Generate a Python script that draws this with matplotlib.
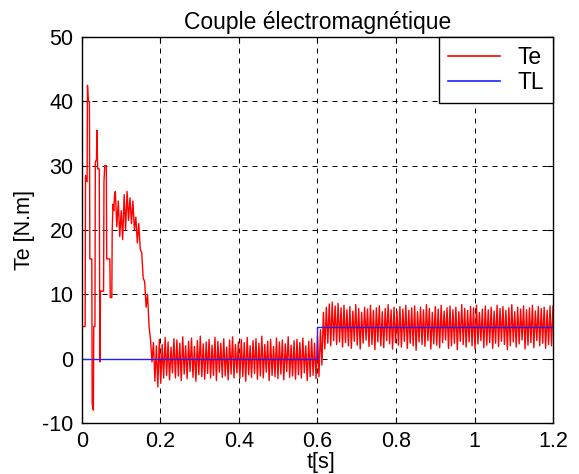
import numpy as np
import matplotlib
matplotlib.use("Agg")
from matplotlib import pyplot as plt

plt.rcParams["font.family"] = ["Liberation Sans", "DejaVu Sans"]
plt.rcParams["axes.unicode_minus"] = False

# start-up transient of Te, read point by point
t_start = [0.000, 0.008, 0.009, 0.013, 0.014, 0.016, 0.019, 0.020, 0.025, 0.026,
           0.029, 0.030, 0.033, 0.034, 0.037, 0.038, 0.040, 0.044, 0.045, 0.046,
           0.047, 0.055, 0.056, 0.058, 0.062, 0.063, 0.071, 0.072, 0.076, 0.077,
           0.079, 0.081, 0.083]
te_start = [5.0, 5.0, 28.5, 27.5, 42.5, 40.0, 40.0, 15.5, 15.5, -7.0,
            -8.0, 5.0, 5.0, 30.5, 31.0, 35.5, 29.5, 29.5, 10.5, -0.5,
            10.5, 10.5, 27.5, 30.0, 30.0, 15.5, 15.5, 9.5, 9.5, 20.0,
            24.0, 23.0, 25.5]

# ripple peaks / troughs from 0.085 s up to the load step at 0.6 s
ripple1_hi = [26.0, 24.5, 23.0, 25.5, 26.0, 25.0, 24.5, 22.0, 21.0, 16.5, 12.0, 10.0, 3.0,
              2.5, 2.0, 3.0, 2.2, 3.3, 2.6, 1.8, 3.1, 2.9, 2.4,
              3.4, 2.0, 2.7, 3.2, 1.9, 2.8, 3.5, 2.3, 2.6, 3.0,
              2.1, 3.3, 2.7, 2.4, 3.1, 1.8, 2.9, 3.4, 2.2, 2.6,
              3.0, 2.5, 3.3, 2.0, 2.8, 3.1, 2.4, 3.5, 2.2, 2.7,
              3.0, 1.9, 3.2, 2.6, 2.9, 2.3, 3.4, 2.1, 2.8, 3.0,
              2.5, 3.2, 2.0, 2.7, 3.1, 2.4]
ripple1_lo = [20.5, 19.0, 18.5, 20.0, 21.5, 21.0, 20.0, 18.0, 17.0, 12.5, 8.0, 5.0, -0.5,
              -3.5, -4.4, -3.8, -3.0, -2.6, -3.3, -2.2, -3.0, -2.7, -3.4,
              -2.4, -3.1, -2.0, -2.9, -3.5, -2.5, -2.8, -3.2, -2.3, -3.0,
              -2.6, -3.4, -2.1, -2.9, -2.7, -3.3, -2.4, -3.0, -2.2, -3.1,
              -2.8, -3.5, -2.5, -2.9, -2.3, -3.2, -2.7, -3.0, -2.1, -3.4,
              -2.6, -2.8, -3.1, -2.4, -3.3, -2.0, -2.9, -2.7, -3.2, -2.5,
              -3.0, -2.2, -3.4, -2.8, -2.6, -3.1]

# ripple peaks / troughs after the load step (0.6 s .. 1.2 s)
ripple2_hi = [3.5, 4.5, 7.2, 8.0, 8.5, 8.8, 8.2, 8.6, 7.9, 8.3,
              7.6, 8.1, 7.4, 8.4, 7.8, 7.2, 8.0, 7.7, 8.3, 7.5,
              7.9, 8.2, 7.3, 7.8, 8.4, 7.6, 8.0, 7.4, 8.1, 7.7,
              8.3, 7.5, 7.9, 8.2, 7.3, 8.0, 7.6, 8.4, 7.8, 7.2,
              8.1, 7.7, 8.3, 7.4, 7.9, 8.2, 7.6, 8.0, 7.3, 8.4,
              7.8, 7.5, 8.1, 7.9, 8.3, 7.2, 7.7, 8.2, 7.6, 8.0,
              7.4, 8.3, 7.8, 8.1, 7.5, 7.9, 8.4, 7.3, 8.0, 7.7,
              8.2, 7.6, 7.9, 8.3, 7.4, 8.1, 7.8, 8.0, 7.5, 8.2]
ripple2_lo = [-2.8, -1.0, 1.5, 2.4, 2.0, 2.8, 2.2, 2.6, 1.8, 2.5,
              2.0, 1.6, 2.7, 2.1, 1.5, 2.4, 2.9, 1.9, 2.2, 1.4,
              2.6, 2.0, 1.7, 2.8, 2.3, 1.5, 2.5, 2.1, 1.8, 2.7,
              1.6, 2.4, 2.0, 1.3, 2.6, 2.2, 1.9, 2.8, 1.5, 2.3,
              2.1, 1.7, 2.5, 2.9, 1.6, 2.0, 2.4, 1.4, 2.7, 2.2,
              1.8, 2.6, 2.0, 1.5, 2.3, 2.8, 1.7, 2.1, 2.5, 1.6,
              2.4, 1.9, 2.7, 2.2, 1.4, 2.0, 2.6, 1.8, 2.3, 2.9,
              1.5, 2.1, 2.5, 1.7, 2.8, 2.0, 2.4, 1.6, 2.2, 2.0]

# load torque
tl_t = [0.0, 0.6, 0.6, 1.2]
tl_v = [0.0, 0.0, 5.0, 5.0]


def ripple(hi, lo, t0, t1):
    # peak then trough inside each cycle between t0 and t1
    n = len(hi)
    tc = np.linspace(t0, t1, n, endpoint=False)
    half = (t1 - t0) / n / 2
    tt = np.column_stack([tc, tc + half]).ravel()
    vv = np.column_stack([hi, lo]).ravel()
    return tt, vv


t1, v1 = ripple(ripple1_hi, ripple1_lo, 0.085, 0.6)
t2, v2 = ripple(ripple2_hi, ripple2_lo, 0.6, 1.2)
t_te = np.concatenate([t_start, t1, t2, [1.2]])
te = np.concatenate([te_start, v1, v2, [ripple2_hi[-1]]])

fig = plt.figure(figsize=(5.79, 4.74), dpi=100)
ax = fig.add_axes([0.1416, 0.1076, 0.8135, 0.8143])

ax.plot(t_te, te, color="red", lw=1.0, label="Te")
ax.plot(tl_t, tl_v, color="#2020ff", lw=1.0, label="TL")

ax.set_xlim(0, 1.2)
ax.set_ylim(-10, 50)
ax.set_xticks([0, 0.2, 0.4, 0.6, 0.8, 1.0, 1.2])
ax.set_xticklabels(["0", "0.2", "0.4", "0.6", "0.8", "1", "1.2"])
ax.set_yticks(np.arange(-10, 51, 10))
ax.grid(True, color="black", lw=0.72, ls=(0, (5, 5)))
ax.tick_params(direction="in", top=True, right=True, labelsize=15.5, length=4, pad=6)
for s in ax.spines.values():
    s.set_linewidth(1.0)

ax.set_title("Couple électromagnétique", fontsize=16.5, pad=6)
ax.set_xlabel("t[s]", fontsize=15.5, va="top")
ax.xaxis.set_label_coords(0.508, -0.074)
ax.set_ylabel("Te [N.m]", fontsize=15.5, va="center")
ax.yaxis.set_label_coords(-0.121, 0.5)

leg = ax.legend(loc="upper right", fontsize=16.5, fancybox=False, framealpha=1,
                edgecolor="black", borderaxespad=0, handlelength=2.3,
                handletextpad=0.75, borderpad=0.38, labelspacing=0.12)
leg.get_frame().set_linewidth(1.0)
for h in leg.get_lines():
    h.set_linewidth(1.2)

fig.savefig("out.png", dpi=100)
